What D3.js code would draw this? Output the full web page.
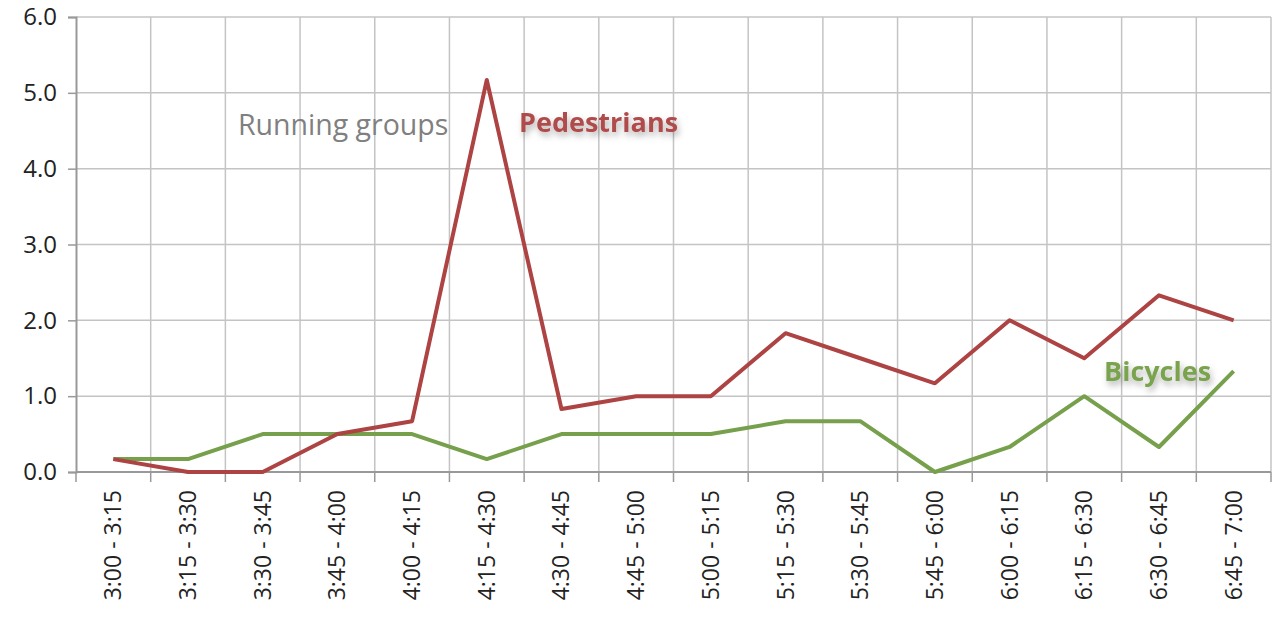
<!DOCTYPE html>
<html>
<head>
<meta charset="utf-8">
<script src="https://cdn.jsdelivr.net/npm/d3@7"></script>
<style>
  body { margin: 0; background: #fff; }
  text { font-family: "Open Sans", "Noto Sans", sans-serif; }
</style>
</head>
<body>
<div class="chart"></div>
<script>
const slots = ['3:00 - 3:15','3:15 - 3:30','3:30 - 3:45','3:45 - 4:00','4:00 - 4:15','4:15 - 4:30',
  '4:30 - 4:45','4:45 - 5:00','5:00 - 5:15','5:15 - 5:30','5:30 - 5:45','5:45 - 6:00',
  '6:00 - 6:15','6:15 - 6:30','6:30 - 6:45','6:45 - 7:00']
const pedestrians = [0.17, 0, 0, 0.5, 0.67, 5.17, 0.83, 1.0, 1.0, 1.83, 1.5, 1.17, 2.0, 1.5, 2.33, 2.0]
const bicycles = [0.17, 0.17, 0.5, 0.5, 0.5, 0.17, 0.5, 0.5, 0.5, 0.67, 0.67, 0, 0.33, 1.0, 0.33, 1.33]
const yTicks = [0, 1, 2, 3, 4, 5, 6]

const width = 1272, height = 621
const plotLeft = 76, plotRight = 1271, plotTop = 17, plotBottom = 472

const svg = d3.select('.chart').append('svg').attr('width', width).attr('height', height)

const defs = svg.append('defs')
const f = defs.append('filter').attr('id', 'shadow').attr('x', '-20%').attr('y', '-50%').attr('width', '140%').attr('height', '200%')
f.append('feDropShadow').attr('dx', 2).attr('dy', 4).attr('stdDeviation', 3).attr('flood-color', '#000').attr('flood-opacity', 0.3)

const x = d3.scaleBand().domain(slots).range([plotLeft, plotRight])
const y = d3.scaleLinear().domain([0, 6]).range([plotBottom, plotTop])

// grid
svg.append('g').selectAll('line')
  .data(yTicks.slice(1))
  .enter().append('line')
  .attr('x1', plotLeft).attr('x2', plotRight)
  .attr('y1', d=>y(d)).attr('y2', d=>y(d))
  .attr('stroke', '#c4c4c4').attr('stroke-width', 1.5)
svg.append('g').selectAll('line')
  .data(slots)
  .enter().append('line')
  .attr('x1', d=>x(d) + x.bandwidth()).attr('x2', d=>x(d) + x.bandwidth())
  .attr('y1', plotTop).attr('y2', plotBottom)
  .attr('stroke', '#c4c4c4').attr('stroke-width', 1.5)

// axes
const yAxis = svg.append('g').attr('transform', `translate(${plotLeft},0)`)
  .call(d3.axisLeft(y).tickValues(yTicks).tickSize(8).tickPadding(11).tickFormat(d3.format('.1f')))
yAxis.select('.domain').attr('stroke', '#999').attr('stroke-width', 2)
yAxis.selectAll('.tick line').attr('stroke', '#999').attr('stroke-width', 1.5)
yAxis.selectAll('text').attr('font-size', 24).attr('fill', '#222')

const xAxis = svg.append('g').attr('transform', `translate(0,${plotBottom})`)
xAxis.append('line').attr('x1', plotLeft).attr('x2', plotRight).attr('stroke', '#999').attr('stroke-width', 2)
xAxis.selectAll('line.tk')
  .data(slots)
  .enter().append('line')
  .attr('class', 'tk')
  .attr('x1', d=>x(d)).attr('x2', d=>x(d))
  .attr('y1', 0).attr('y2', 10)
  .attr('stroke', '#999').attr('stroke-width', 1.5)
xAxis.append('line').attr('x1', plotRight).attr('x2', plotRight).attr('y1', 0).attr('y2', 10)
  .attr('stroke', '#999').attr('stroke-width', 1.5)
xAxis.selectAll('text')
  .data(slots)
  .enter().append('text')
  .text(d=>d)
  .attr('transform', d=>`translate(${x(d) + x.bandwidth()/2 + 8},18) rotate(-90)`)
  .attr('text-anchor', 'end')
  .attr('font-size', 23)
  .attr('fill', '#222')

// lines
const line = d3.line().x((d,i)=>x(slots[i]) + x.bandwidth()/2).y(d=>y(d))
svg.append('path').datum(bicycles).attr('d', line)
  .attr('fill', 'none').attr('stroke', '#77a04c').attr('stroke-width', 4).attr('stroke-linejoin', 'round')
svg.append('path').datum(pedestrians).attr('d', line)
  .attr('fill', 'none').attr('stroke', '#ad4343').attr('stroke-width', 4).attr('stroke-linejoin', 'round')

// annotations
svg.append('text').text('Running groups')
  .attr('x', 238).attr('y', 135)
  .attr('font-size', 28.5).attr('fill', '#808080')
svg.append('text').text('Pedestrians')
  .attr('x', 519).attr('y', 132)
  .attr('font-size', 27).attr('font-weight', 'bold').attr('fill', '#b04b4b')
  .attr('filter', 'url(#shadow)')
svg.append('text').text('Bicycles')
  .attr('x', 1104).attr('y', 381)
  .attr('font-size', 27).attr('font-weight', 'bold').attr('fill', '#7aa34e')
  .attr('filter', 'url(#shadow)')
</script>
</body>
</html>
